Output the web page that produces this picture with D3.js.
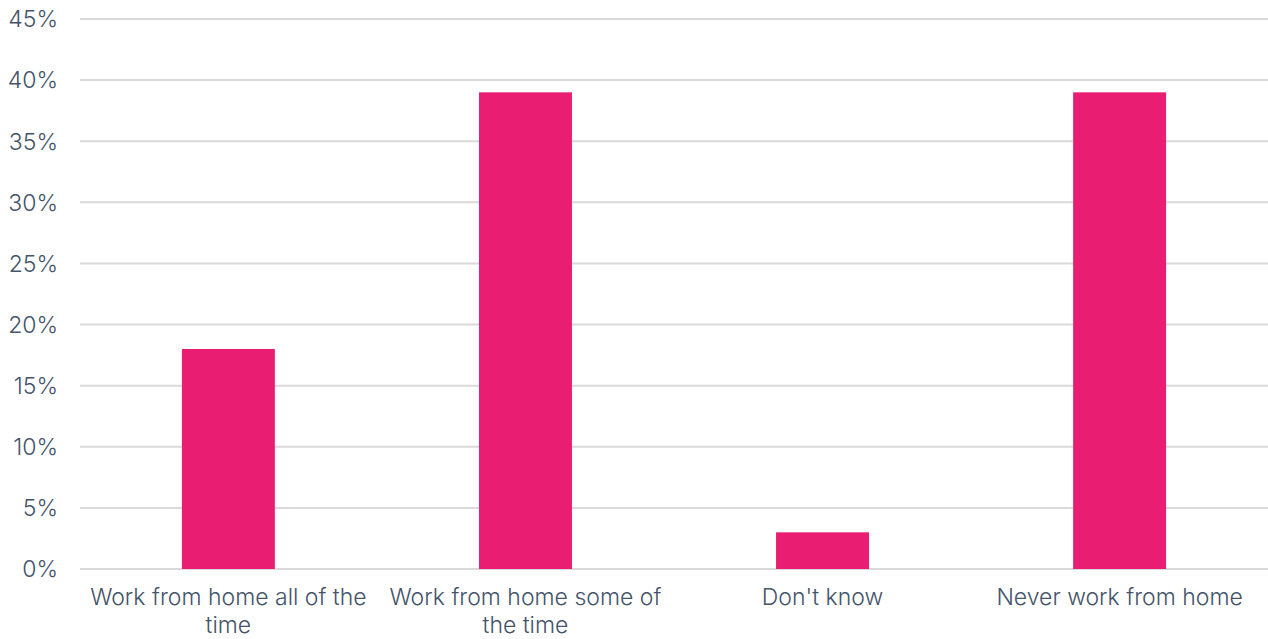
<!DOCTYPE html>
<html>
<head>
<meta charset="utf-8">
<script src="https://cdn.jsdelivr.net/npm/d3@7"></script>
<style>
  body { margin: 0; background: #fff; }
  svg text { font-family: Inter, "Noto Sans", sans-serif; font-weight: 300; fill: #44546a; }
</style>
</head>
<body>
<div id="chart"></div>
<script>
var categories = ["Work from home all of the time", "Work from home some of the time", "Don't know", "Never work from home"];
var values = [18, 39, 3, 39];
var yTicks = [0, 5, 10, 15, 20, 25, 30, 35, 40, 45];

var width = 1268,
  height = 639,
  margin = {top: 19, right: 0, bottom: 70, left: 80};

var svg = d3.select("#chart").append("svg")
  .attr("width", width)
  .attr("height", height);

var x = d3.scaleBand()
  .domain(categories)
  .range([margin.left, width - margin.right])
  .paddingInner(0.687)
  .paddingOuter(0.343);

var y = d3.scaleLinear()
  .domain([0, 45])
  .range([height - margin.bottom, margin.top]);

// gridlines
svg.append("g")
  .selectAll("line")
  .data(yTicks)
  .enter().append("line")
  .attr("x1", margin.left)
  .attr("x2", width - margin.right)
  .attr("y1", function (d) { return y(d); })
  .attr("y2", function (d) { return y(d); })
  .attr("stroke", "#d9d9d9")
  .attr("stroke-width", 2);

// y tick labels
svg.append("g")
  .selectAll("text")
  .data(yTicks)
  .enter().append("text")
  .attr("x", 58)
  .attr("y", function (d) { return y(d); })
  .attr("dy", "0.36em")
  .attr("text-anchor", "end")
  .style("font-size", "23px")
  .text(function (d) { return d + "%"; });

// bars
svg.append("g")
  .selectAll("rect")
  .data(values)
  .enter().append("rect")
  .attr("x", function (d, i) { return x(categories[i]); })
  .attr("y", function (d) { return y(d); })
  .attr("width", x.bandwidth())
  .attr("height", function (d) { return y(0) - y(d); })
  .attr("fill", "#e91e73");

// category labels, wrapped to the band step
function wrap(text, w) {
  text.each(function () {
    var t = d3.select(this),
      words = t.text().split(/\s+/),
      line = [],
      cx = t.attr("x"),
      tspan = t.text(null).append("tspan").attr("x", cx).attr("dy", 0);
    words.forEach(function (word) {
      line.push(word);
      tspan.text(line.join(" "));
      if (tspan.node().getComputedTextLength() > w && line.length > 1) {
        line.pop();
        tspan.text(line.join(" "));
        line = [word];
        tspan = t.append("tspan").attr("x", cx).attr("dy", "28px").text(word);
      }
    });
  });
}

svg.append("g")
  .selectAll("text")
  .data(categories)
  .enter().append("text")
  .attr("x", function (d) { return x(d) + x.bandwidth() / 2; })
  .attr("y", 605)
  .attr("text-anchor", "middle")
  .style("font-size", "23px")
  .text(function (d) { return d; })
  .call(wrap, 290);
</script>
</body>
</html>
